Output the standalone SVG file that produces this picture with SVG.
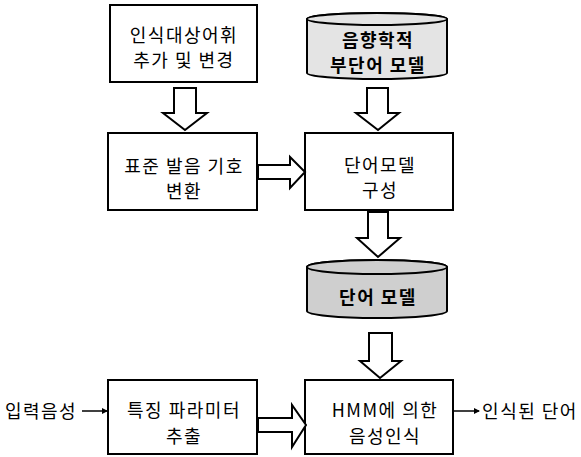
<svg xmlns="http://www.w3.org/2000/svg" width="581" height="457" viewBox="0 0 581 457">
<style>
.box{fill:#fff;stroke:#000;stroke-width:2}
.cyl{stroke:#000;stroke-width:2}
.arr{fill:#fff;stroke:#000;stroke-width:2;stroke-linejoin:miter}
text{font-family:"Noto Sans CJK KR","Noto Sans",sans-serif;font-size:18px;letter-spacing:1.5px;fill:#000;text-anchor:middle}
.b{font-weight:bold}
.ln{stroke:#000;stroke-width:1.5;fill:none}
</style>
<defs>
<marker id="ah" markerWidth="6" markerHeight="6" refX="5" refY="3" orient="auto" markerUnits="userSpaceOnUse">
<path d="M0,0 L6,3 L0,6 Z" fill="#000"/>
</marker>
</defs>
<rect width="581" height="457" fill="#fff"/>
<g id="n1">
<rect class="box" x="110" y="5" width="147" height="77"/>
<text x="184" y="42">인식대상어휘</text>
<text x="184" y="67">추가 및 변경</text>
</g>
<g id="n2">
<path class="cyl" fill="#e4e4e4" d="M307,19 A70,6 0 0 1 447,19 L447,73 A70,6 0 0 1 307,73 Z"/>
<ellipse class="cyl" fill="#e4e4e4" cx="377" cy="19" rx="70" ry="6"/>
<text class="b" x="378" y="47">음향학적</text>
<text class="b" x="378" y="72">부단어 모델</text>
</g>
<g id="n3">
<rect class="box" x="108" y="133" width="149" height="77"/>
<text x="184" y="173">표준 발음 기호</text>
<text x="184" y="198">변환</text>
</g>
<g id="n4">
<rect class="box" x="305" y="133" width="148" height="77"/>
<text x="380" y="172">단어모델</text>
<text x="380" y="197">구성</text>
</g>
<g id="n5">
<path class="cyl" fill="#cfcfcf" d="M307,267 A70,7 0 0 1 447,267 L447,311 A70,7 0 0 1 307,311 Z"/>
<ellipse class="cyl" fill="#cfcfcf" cx="377" cy="267" rx="70" ry="7"/>
<text class="b" x="378" y="304">단어 모델</text>
</g>
<g id="n6">
<rect class="box" x="108" y="380" width="149" height="74"/>
<text x="184" y="417">특징 파라미터</text>
<text x="184" y="443">추출</text>
</g>
<g id="n7">
<rect class="box" x="305" y="380" width="148" height="74"/>
<text x="385" y="417">HMM에 의한</text>
<text x="385" y="443">음성인식</text>
</g>
<g id="in">
<text x="41" y="418">입력음성</text>
</g>
<g id="out">
<text x="530" y="418">인식된 단어</text>
</g>
<g id="connectors">
<path class="arr" d="M174,88 H196 V113 H207 L185,130 L163,113 H174 Z"/>
<path class="arr" d="M367,88 H388 V113 H399 L378,130 L356,113 H367 Z"/>
<path class="arr" d="M258,165 H290 V157 L305,172 L290,188 V179 H258 Z"/>
<path class="arr" d="M368,212 H388 V238 H400 L378,257 L357,238 H368 Z"/>
<path class="arr" d="M369,333 H392 V361 H401 L380,378 L360,361 H369 Z"/>
<path class="arr" d="M258,418 H292 V405 L306,425 L292,447 V432 H258 Z"/>
<line class="ln" x1="82" y1="411" x2="107" y2="411" marker-end="url(#ah)"/>
<line class="ln" x1="454" y1="411" x2="479" y2="411" marker-end="url(#ah)"/>
</g>
</svg>
